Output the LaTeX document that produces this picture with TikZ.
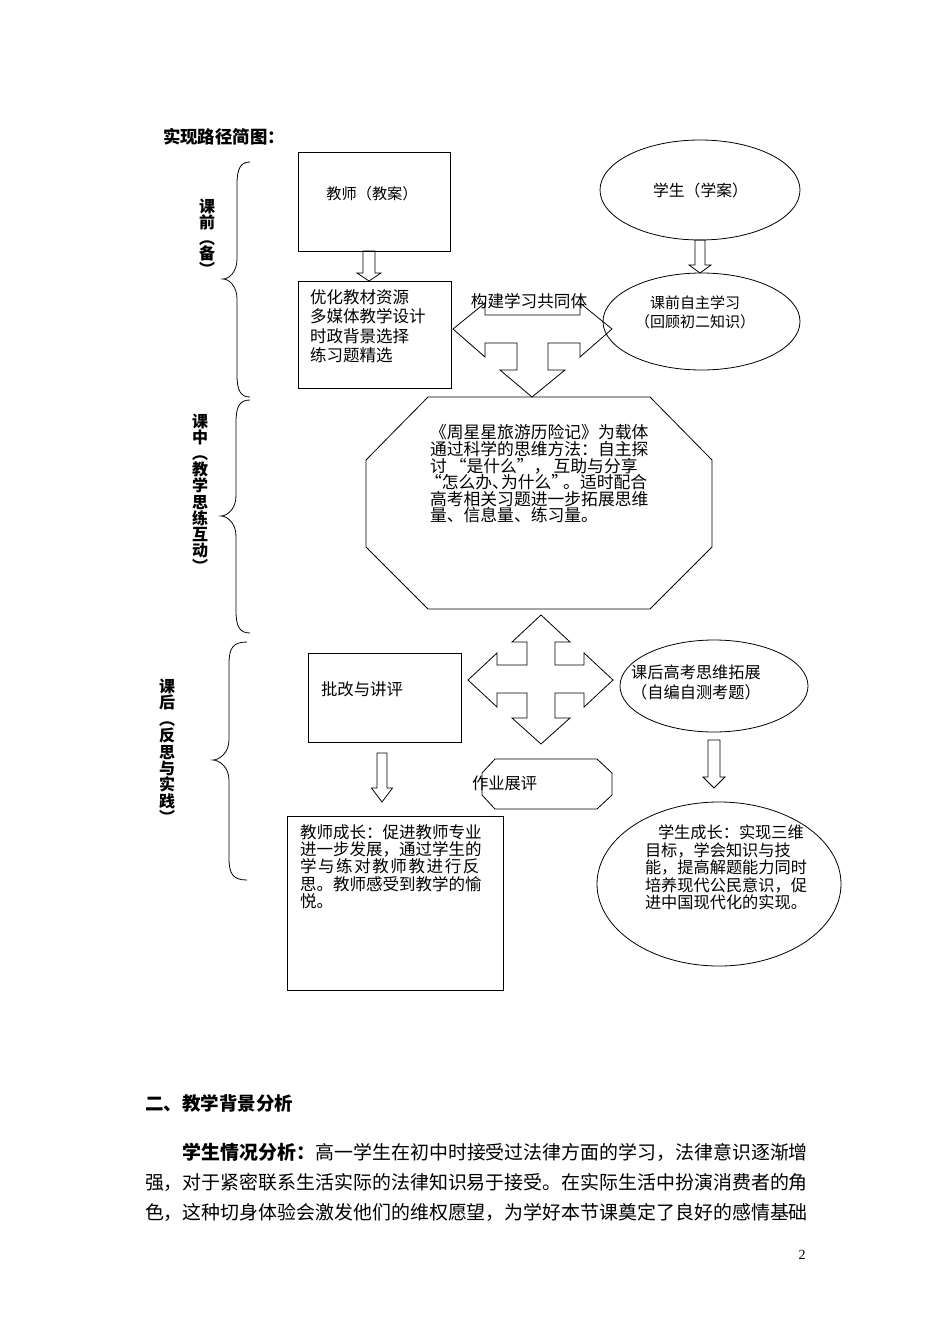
\documentclass[tikz,border=0pt]{standalone}
\usepackage{fontspec}
\setmainfont{Liberation Serif}
\newfontfamily\cjk{Noto Sans CJK SC}
\usetikzlibrary{calc,shapes.geometric}
\newcommand{\fs}[2]{\fontsize{#1}{#2}\selectfont}
% hollow down block arrow: #1 top point, #2 tip point, #3 shaft half width, #4 head half width, #5 head height
\newcommand{\hollowdown}[5]{%
  \draw[blockarrow] let \p1=#1, \p2=#2 in
    (\x1-#3pt,\y1) -- (\x1+#3pt,\y1) -- (\x1+#3pt,\y2+#5pt) -- (\x1+#4pt,\y2+#5pt)
    -- (\x1,\y2) -- (\x1-#4pt,\y2+#5pt) -- (\x1-#3pt,\y2+#5pt) -- cycle;}
% left curly brace: #1 x of ends, #2 x of spine, #3 x of tip, #4 y top, #5 y tip, #6 y bottom
\newcommand{\curly}[6]{%
  \draw[bracel] (#1,#4) .. controls ({#2+4},#4) and (#2,{#4+6}) .. (#2,{#4+22})
    -- (#2,{#5-20}) .. controls (#2,{#5-7}) and ({#3+6},#5) .. (#3,#5)
    .. controls ({#3+6},#5) and (#2,{#5+7}) .. (#2,{#5+20})
    -- (#2,{#6-22}) .. controls (#2,{#6-6}) and ({#2+4},#6) .. (#1,#6);}
\begin{document}
\begin{tikzpicture}[x=1pt,y=-1pt,
  every node/.style={inner sep=0pt, outer sep=0pt, text=black},
  box/.style={draw, rectangle, line width=0.8pt},
  oval/.style={draw, ellipse, line width=0.8pt},
  blockarrow/.style={draw, line width=0.8pt, line join=miter},
  shapeline/.style={draw, line width=0.8pt, line join=miter},
  bracel/.style={draw, line width=0.8pt},
  vlabel/.style={font=\cjk\bfseries\fs{16}{16.2}, align=center, anchor=north},
]
\useasboundingbox (0,0) rectangle (950,1344);

% title
\node[anchor=west, font=\cjk\bfseries\fs{17.4}{20}] (title) at (163,137) {实现路径简图：};

% braces and side labels
\curly{250}{237}{223}{162}{279}{397}
\curly{250}{236}{221}{400}{516}{633}
\curly{247}{229}{213}{642}{760}{880}
\node[vlabel, font=\cjk\bfseries\fs{16}{15.8}] (lab1) at (207,199) {课\\前\\︵\\备\\︶};
\node[vlabel, font=\cjk\bfseries\fs{16}{16.1}] (lab2) at (200,414) {课\\中\\︵\\教\\学\\思\\练\\互\\动\\︶};
\node[vlabel, font=\cjk\bfseries\fs{16}{16.4}] (lab3) at (167,679) {课\\后\\︵\\反\\思\\与\\实\\践\\︶};

% teacher side (before class)
\node[box, minimum width=152pt, minimum height=99pt] (t1) at (374,201.5) {};
\node[font=\cjk\fs{15.2}{18}] (t1txt) at (372,194) {教师（教案）};
\node[box, minimum width=153pt, minimum height=107pt] (t2) at (374.5,334.5) {};
\node[anchor=north west, align=left, font=\cjk\fs{16.5}{19.3}] (t2txt) at (310,289.8)
  {优化教材资源\\多媒体教学设计\\时政背景选择\\练习题精选};
\hollowdown{([xshift=-5pt]t1.south)}{([xshift=-5pt]t2.north)}{6}{12}{8}

% student side (before class)
\node[oval, minimum width=200pt, minimum height=100pt] (s1) at (700,190) {};
\node[font=\cjk\fs{15.8}{18}] (s1txt) at (700.5,190) {学生（学案）};
\node[oval, minimum width=197pt, minimum height=97pt] (s2) at (701.5,321.5) {};
\node[align=center, font=\cjk\fs{15}{19}] (s2txt) at (695,312.5) {课前自主学习\\（回顾初二知识）};
\hollowdown{(s1.south)}{(s2.north)}{5}{11}{8}

% three-way block arrow (learning community)
\draw[blockarrow] (453,329) -- (485,303) -- (485,315) -- (580,315) -- (580,303) -- (612,329)
  -- (580,357) -- (580,343) -- (548,343) -- (548,370) -- (565,370) -- (532,397)
  -- (500,370) -- (517,370) -- (517,343) -- (485,343) -- (485,357) -- cycle;
\node[font=\cjk\fs{16.6}{18}] (comm) at (529,301) {构建学习共同体};

% in-class octagon
\draw[shapeline] (428,397) -- (650,397) -- (712,460) -- (712,547) -- (650,609)
  -- (428,609) -- (366,547) -- (366,460) -- cycle;
\node[anchor=north west, align=left, font=\cjk\fs{16.8}{16.6}] (oct) at (430,424.6)
  {《周星星旅游历险记》为载体\\通过科学的思维方法：自主探\\讨\kern3pt“是什么”，\kern3pt互助与分享\\\kern-5pt“怎么办、\kern-8pt为什么”\kern-5pt。适时配合\\高考相关习题进一步拓展思维\\量、信息量、练习量。};

% four-way block arrow
\draw[blockarrow] (541,615) -- (570,642) -- (555,642) -- (555,665) -- (584,665) -- (584,653)
  -- (613,680) -- (584,707) -- (584,693) -- (555,693) -- (555,718) -- (570,718)
  -- (541,744) -- (512,718) -- (527,718) -- (527,693) -- (497,693) -- (497,707)
  -- (468,680) -- (497,653) -- (497,665) -- (527,665) -- (527,642) -- (512,642) -- cycle;

% after class
\node[box, minimum width=153pt, minimum height=89pt] (pg) at (384.5,697.5) {};
\node[anchor=west, font=\cjk\fs{16.4}{18}] (pgtxt) at (321,689) {批改与讲评};
\draw[shapeline] (495,759) -- (597,759) -- (612,773) -- (612,795) -- (597,809)
  -- (495,809) -- (482,795) -- (482,773) -- cycle;
\node[anchor=west, font=\cjk\fs{16.3}{18}] (hw) at (472,783) {作业展评};
\node[oval, minimum width=188pt, minimum height=92pt] (s3) at (714,686) {};
\node[align=center, font=\cjk\fs{16.2}{20}] (s3txt) at (696,682) {课后高考思维拓展\\（自编自测考题）};

\node[box, minimum width=216pt, minimum height=174pt] (tg) at (395,903) {};
\node[anchor=north west, align=left, font=\cjk\fs{16.5}{17.1}] (tgtxt) at (300,824.8)
  {教师成长：促进教师专业\\进一步发展，通过学生的\\学\kern1.6pt与\kern1.6pt练\kern1.6pt对\kern1.6pt教\kern1.6pt师\kern1.6pt教\kern1.6pt进\kern1.6pt行\kern1.6pt反\\思。教师感受到教学的愉\\悦。};
\node[oval, minimum width=244pt, minimum height=164pt] (s4) at (719,884) {};
\node[anchor=north west, align=left, font=\cjk\fs{16.2}{17.5}] (s4txt) at (645,824.9)
  {\hspace*{13pt}学生成长：实现三维\\目标，学会知识与技\\能，提高解题能力同时\\培养现代公民意识，促\\进中国现代化的实现。};

\hollowdown{([xshift=-2.5pt,yshift=-11pt]pg.south)}{([yshift=14pt]tg.north)}{5}{10.5}{14}
\hollowdown{([yshift=-8pt]s3.south)}{([yshift=14pt]s4.north)}{6}{11}{11}

% text below the diagram
\node[anchor=west, font=\cjk\bfseries\fs{18.5}{20}] (sec) at (145,1103) {二、教学背景分析};
\node[anchor=west, font=\cjk\fs{18.94}{22}] (p1) at (182.9,1152)
  {{\bfseries 学生情况分析：}高一学生在初中时接受过法律方面的学习，法律意识逐渐增};
\node[anchor=west, font=\cjk\fs{18.94}{22}] (p2) at (145,1182)
  {强，对于紧密联系生活实际的法律知识易于接受。在实际生活中扮演消费者的角};
\node[anchor=west, font=\cjk\fs{18.94}{22}] (p3) at (145,1212)
  {色，这种切身体验会激发他们的维权愿望，为学好本节课奠定了良好的感情基础};
\node[font=\fs{14}{16}] (pn) at (802,1255) {2};
\end{tikzpicture}
\end{document}
